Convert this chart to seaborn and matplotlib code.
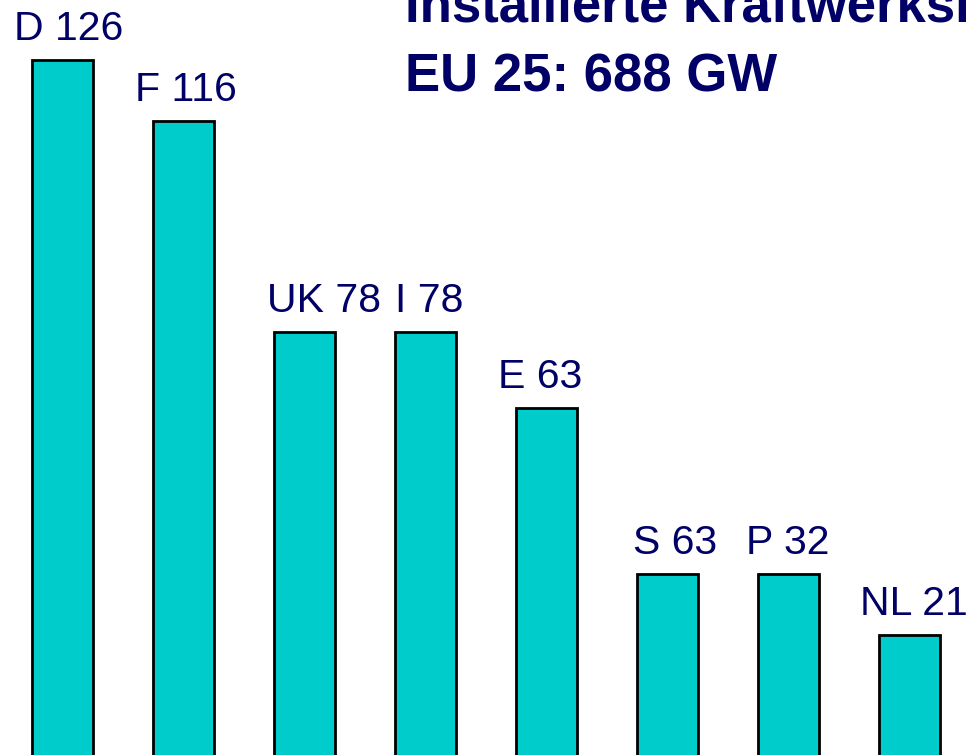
import matplotlib
matplotlib.use("Agg")
import matplotlib.pyplot as plt
import seaborn as sns
import pandas as pd

# Installed power plant capacity per country (GW) - labels as printed, bar heights as drawn
countries = ["D", "F", "UK", "I", "E", "S", "P", "NL"]
label_values = [126, 116, 78, 78, 63, 63, 32, 21]
bar_heights = [126, 116, 81.4, 81.4, 69.0, 41.7, 41.7, 31.7]
title_lines = ["Installierte Kraftwerksleistung", "EU 25: 688 GW"]

# horizontal nudge of each label relative to the bar's left edge (pixels)
label_shift_px = [-18, -18, -7, 0, -18, -4, -12, -19]

navy = "#000066"
bar_color = "#00CCCC"

sns.set_theme(style="white")
plt.rcParams["font.family"] = ["Liberation Sans", "DejaVu Sans"]

df = pd.DataFrame({"country": countries, "height": bar_heights})

fig = plt.figure(figsize=(9.67, 7.55), dpi=100)
ax = fig.add_axes([0, 0, 1, 1])

bar_width = 0.504
sns.barplot(data=df, x="country", y="height", color=bar_color, saturation=1,
            edgecolor="black", linewidth=2.0, width=bar_width, ax=ax)

# picture shows only the upper part of the chart
ax.set_xlim(-0.5165, 7.476)
ax.set_ylim(12.07, 135.8)
ax.axis("off")

px = 0.72  # pixels -> points at 100 dpi
for i, (c, v, h) in enumerate(zip(countries, label_values, bar_heights)):
    ax.annotate(f"{c} {v}", xy=(i - bar_width / 2, h),
                xytext=(label_shift_px[i] * px, 20 * px), textcoords="offset points",
                ha="left", va="baseline", fontsize=29.5, color=navy,
                annotation_clip=False)

fig.text(405 / 967, 1 - 22 / 755, title_lines[0], ha="left", va="baseline",
         fontsize=38, fontweight="bold", color=navy)
fig.text(405 / 967, 1 - 91 / 755, title_lines[1], ha="left", va="baseline",
         fontsize=38, fontweight="bold", color=navy)

fig.savefig("out.png", dpi=100)
